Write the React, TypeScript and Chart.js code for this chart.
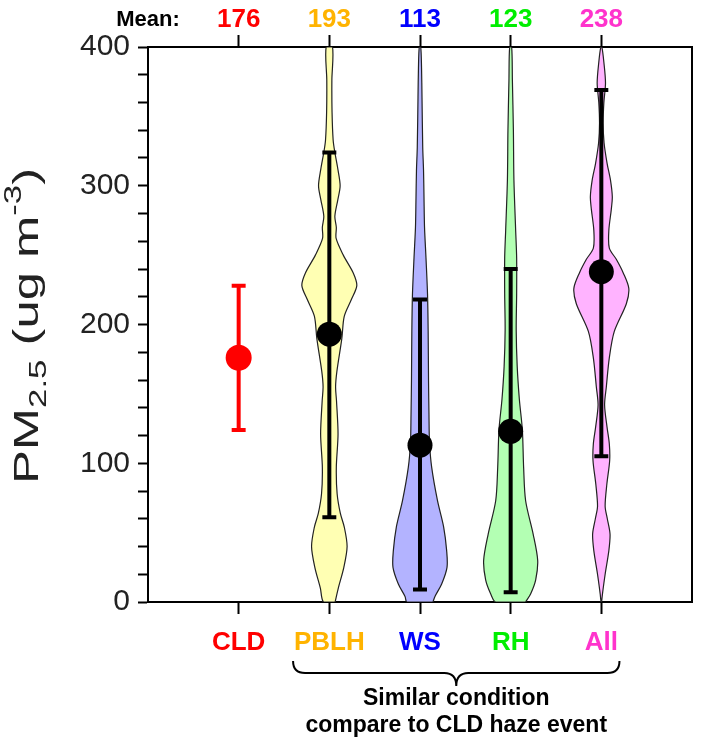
import React, { useEffect, useRef } from 'react';
import { Chart, registerables } from 'chart.js';

Chart.register(...registerables);

// ---------------- data ----------------
const categories = ['CLD', 'PBLH', 'WS', 'RH', 'All'];
const categoryColors = ['#FF0000', '#FFB300', '#0000FF', '#00EE00', '#FF33CC'];
const meanValues = [176, 193, 113, 123, 238];
const errLow = [124, 61, 9, 7, 105];
const errHigh = [228, 324, 218, 240, 369];

// violin density outlines: PM2.5 level and half-width (x-axis units)
const pblhLevels = [0, 10, 25, 40, 54, 64, 78, 97, 121, 145, 155, 166, 190, 206, 218, 228, 237, 250, 262, 270, 278, 290, 300, 312, 324, 333, 353, 376, 400];
const pblhWidth = [0.064, 0.099, 0.160, 0.196, 0.165, 0.121, 0.086, 0.077, 0.096, 0.079, 0.069, 0.083, 0.138, 0.165, 0.243, 0.303, 0.265, 0.154, 0.075, 0.077, 0.061, 0.094, 0.119, 0.094, 0.061, 0.042, 0.030, 0.028, 0.035];

const wsLevels = [0, 4, 13, 25, 37, 54, 73, 97, 115, 135, 160, 195, 222, 248, 270, 292, 311, 328, 364, 385, 400];
const wsWidth = [0.143, 0.165, 0.239, 0.298, 0.294, 0.261, 0.193, 0.129, 0.105, 0.099, 0.094, 0.090, 0.083, 0.066, 0.050, 0.044, 0.039, 0.030, 0.022, 0.017, 0.008];

const rhLevels = [0, 6, 16, 30, 49, 73, 97, 124, 146, 170, 196, 222, 248, 268, 304, 340, 376, 400];
const rhWidth = [0.165, 0.221, 0.276, 0.298, 0.248, 0.165, 0.143, 0.129, 0.096, 0.072, 0.061, 0.066, 0.066, 0.055, 0.036, 0.030, 0.019, 0.011];

const allLevels = [0, 6, 20, 37, 49, 60, 69, 85, 102, 114, 126, 142, 155, 176, 195, 215, 226, 237, 247, 255, 268, 283, 292, 304, 316, 331, 345, 360, 374, 389, 400];
const allWidth = [0.003, 0.013, 0.042, 0.083, 0.096, 0.066, 0.042, 0.061, 0.092, 0.088, 0.063, 0.036, 0.055, 0.088, 0.143, 0.276, 0.303, 0.243, 0.165, 0.088, 0.083, 0.110, 0.121, 0.101, 0.064, 0.030, 0.020, 0.028, 0.046, 0.028, 0.006];

const violins = [
  { cat: 2, levels: pblhLevels, width: pblhWidth, fill: 'rgb(255,255,179)' },
  { cat: 3, levels: wsLevels, width: wsWidth, fill: 'rgb(179,179,255)' },
  { cat: 4, levels: rhLevels, width: rhWidth, fill: 'rgb(179,255,179)' },
  { cat: 5, levels: allLevels, width: allWidth, fill: 'rgb(255,179,255)' },
];

const yMin = 0;
const yMax = 400;
const yStep = 20;
const yLabelStep = 100;
const braceFrom = 1.6;
const braceTo = 5.2;

const FONT = '"Liberation Sans", Arial, Helvetica, sans-serif';

function violinPoints(center: number, levels: number[], width: number[]) {
  const right = levels.map((y, i) => ({ x: center + width[i], y }));
  const left = levels.map((y, i) => ({ x: center - width[i], y })).reverse();
  return [...right, ...left, right[0]];
}

const capHalf = 0.077;

function errorPoints(i: number) {
  const c = i + 1;
  return [
    { x: c, y: errLow[i] }, { x: c, y: errHigh[i] }, { x: c, y: null },
    { x: c - capHalf, y: errHigh[i] }, { x: c + capHalf, y: errHigh[i] }, { x: c, y: null },
    { x: c - capHalf, y: errLow[i] }, { x: c + capHalf, y: errLow[i] },
  ];
}

const extrasPlugin = {
  id: 'extras',
  afterDraw(chart: any) {
    const { ctx } = chart;
    const xs = chart.scales.x;
    ctx.save();
    // "Mean:" label
    ctx.fillStyle = '#000';
    ctx.font = `bold 22px ${FONT}`;
    ctx.textAlign = 'center';
    ctx.textBaseline = 'middle';
    ctx.fillText('Mean:', xs.getPixelForValue(0), 20);

    // brace
    const x1 = xs.getPixelForValue(braceFrom);
    const x2 = xs.getPixelForValue(braceTo);
    const xm = (x1 + x2) / 2;
    const yTop = 661, yMid = 673, yTip = 686, r = 12;
    ctx.strokeStyle = '#000';
    ctx.lineWidth = 2;
    ctx.beginPath();
    ctx.moveTo(x1, yTop);
    ctx.quadraticCurveTo(x1, yMid, x1 + r, yMid);
    ctx.lineTo(xm - r, yMid);
    ctx.quadraticCurveTo(xm, yMid, xm, yTip);
    ctx.quadraticCurveTo(xm, yMid, xm + r, yMid);
    ctx.lineTo(x2 - r, yMid);
    ctx.quadraticCurveTo(x2, yMid, x2, yTop);
    ctx.stroke();

    ctx.font = `bold 23px ${FONT}`;
    ctx.fillText('Similar condition', xm, 699);
    ctx.fillText('compare to CLD haze event', xm, 726);

    // y axis title with sub/superscript
    const parts = [
      { t: 'PM', s: 35, dy: 0 },
      { t: '2.5', s: 24, dy: 11 },
      { t: ' (ug m', s: 35, dy: 0 },
      { t: '-3', s: 24, dy: -14 },
      { t: ')', s: 35, dy: 0 },
    ];
    let total = 0;
    const widths = parts.map((p) => {
      ctx.font = `${p.s}px ${FONT}`;
      const w = ctx.measureText(p.t).width;
      total += w;
      return w;
    });
    ctx.translate(28, 326);
    ctx.rotate(-Math.PI / 2);
    ctx.scale(1.45, 1);
    ctx.textAlign = 'left';
    ctx.textBaseline = 'middle';
    ctx.fillStyle = '#222';
    let cx = -total / 2;
    parts.forEach((p, i) => {
      ctx.font = `${p.s}px ${FONT}`;
      ctx.fillText(p.t, cx, p.dy);
      cx += widths[i];
    });
    ctx.restore();
  },
};

export default function App() {
  const ref = useRef<HTMLCanvasElement>(null);
  useEffect(() => {
    if (!ref.current) return;
    const datasets: any[] = [];
    violins.forEach((v) => {
      datasets.push({
        data: violinPoints(v.cat, v.levels, v.width),
        showLine: true,
        fill: 'shape',
        backgroundColor: v.fill,
        borderColor: '#222',
        borderWidth: 1.2,
        pointRadius: 0,
        tension: 0.3,
        order: 3,
      });
    });
    categories.forEach((_, i) => {
      datasets.push({
        data: errorPoints(i),
        showLine: true,
        spanGaps: false,
        borderColor: i === 0 ? '#FF0000' : '#000',
        borderWidth: 4,
        pointRadius: 0,
        fill: false,
        order: 2,
      });
    });
    datasets.push({
      data: meanValues.map((m, i) => ({ x: i + 1, y: m })),
      showLine: false,
      pointRadius: meanValues.map((_, i) => (i === 0 ? 13 : 12.5)),
      pointBackgroundColor: meanValues.map((_, i) => (i === 0 ? '#FF0000' : '#000')),
      pointBorderWidth: 0,
      order: 1,
    });

    const catTicks = (scale: any) => {
      scale.ticks = categories.map((_, i) => ({ value: i + 1 }));
    };

    const chart = new Chart(ref.current, {
      type: 'scatter',
      data: { datasets },
      options: {
        animation: false,
        responsive: false,
        devicePixelRatio: 1,
        layout: { padding: 0 },
        plugins: { legend: { display: false }, tooltip: { enabled: false } },
        scales: {
          x: {
            type: 'linear',
            position: 'bottom',
            min: 0,
            max: 6,
            afterBuildTicks: catTicks,
            afterFit: (s: any) => { s.height = 135; },
            grid: { drawOnChartArea: false, tickLength: 12, tickWidth: 2, tickColor: '#000' },
            border: { display: true, color: '#000', width: 2 },
            ticks: {
              autoSkip: false,
              maxRotation: 0,
              padding: 13,
              font: { size: 26, weight: 'bold', family: FONT },
              color: (c: any) => categoryColors[c.index],
              callback: (v: any) => categories[Number(v) - 1],
            },
          },
          x2: {
            type: 'linear',
            position: 'top',
            min: 0,
            max: 6,
            afterBuildTicks: catTicks,
            afterFit: (s: any) => { s.height = 47; },
            grid: { drawOnChartArea: false, tickLength: 12, tickWidth: 2, tickColor: '#000' },
            border: { display: true, color: '#000', width: 2 },
            ticks: {
              autoSkip: false,
              maxRotation: 0,
              padding: 0,
              font: { size: 26, weight: 'bold', family: FONT },
              color: (c: any) => categoryColors[c.index],
              callback: (v: any) => String(meanValues[Number(v) - 1]),
            },
          },
          y: {
            type: 'linear',
            position: 'left',
            min: yMin,
            max: yMax,
            afterFit: (s: any) => { s.width = 148; },
            grid: { drawOnChartArea: false, tickLength: 10, tickWidth: 2, tickColor: '#000' },
            border: { display: true, color: '#000', width: 2 },
            ticks: {
              stepSize: yStep,
              autoSkip: false,
              padding: 8,
              color: '#222',
              font: { size: 30, family: FONT },
              callback: (v: any) => (Number(v) % yLabelStep === 0 ? String(v) : ''),
            },
          },
          y2: {
            type: 'linear',
            position: 'right',
            min: yMin,
            max: yMax,
            afterFit: (s: any) => { s.width = 17; },
            grid: { display: false },
            border: { display: true, color: '#000', width: 2 },
            ticks: { display: false },
          },
        },
      },
      plugins: [extrasPlugin],
    });
    return () => chart.destroy();
  }, []);

  return (
    <div style={{ position: 'absolute', left: 0, top: 0, width: 709, height: 737, background: '#fff' }}>
      <canvas ref={ref} width={709} height={737} style={{ display: 'block', width: 709, height: 737 }} />
    </div>
  );
}
